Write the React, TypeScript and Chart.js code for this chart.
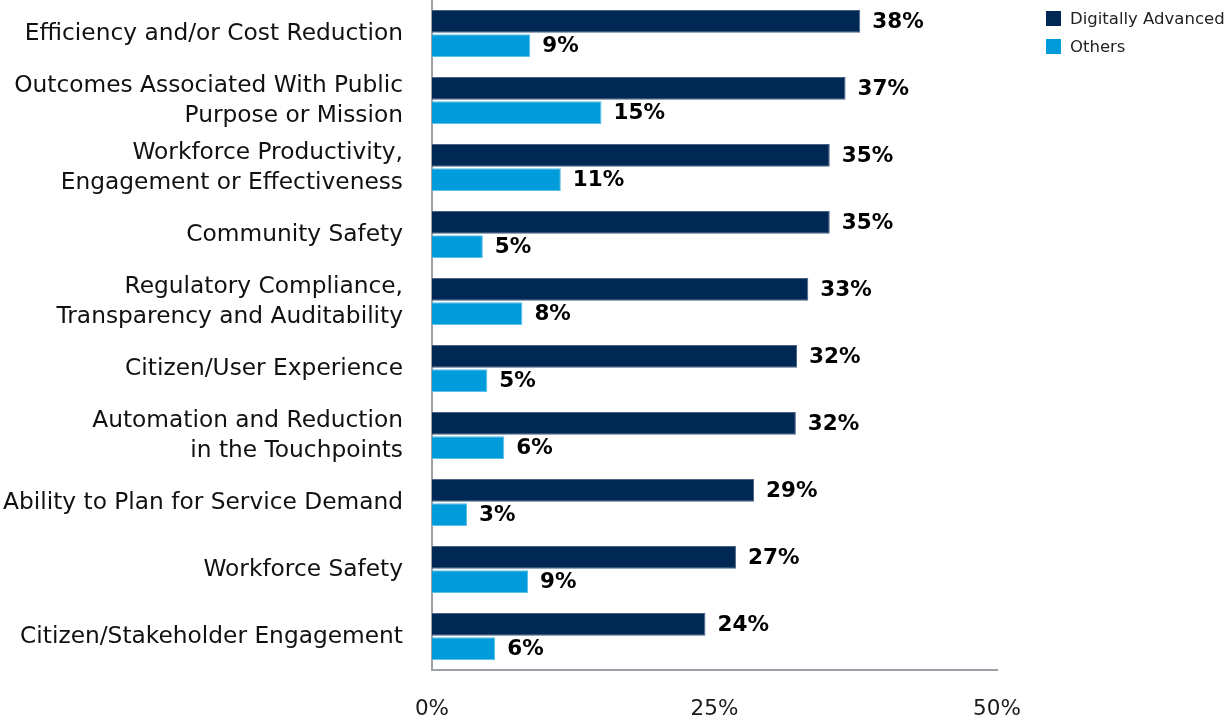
import React, { useEffect, useRef } from "react";
import { Chart, registerables } from "chart.js";

Chart.register(...registerables);

const categories: (string | string[])[] = [
  "Efficiency and/or Cost Reduction",
  ["Outcomes Associated With Public", "Purpose or Mission"],
  ["Workforce Productivity,", "Engagement or Effectiveness"],
  "Community Safety",
  ["Regulatory Compliance,", "Transparency and Auditability"],
  "Citizen/User Experience",
  ["Automation and Reduction", "in the Touchpoints"],
  "Ability to Plan for Service Demand",
  "Workforce Safety",
  "Citizen/Stakeholder Engagement",
];

const digitallyAdvanced = [37.9, 36.6, 35.2, 35.2, 33.3, 32.3, 32.2, 28.5, 26.9, 24.2];
const others = [8.7, 15.0, 11.4, 4.5, 8.0, 4.9, 6.4, 3.1, 8.5, 5.6];
const valueLabelsDA = ["38%", "37%", "35%", "35%", "33%", "32%", "32%", "29%", "27%", "24%"];
const valueLabelsOthers = ["9%", "15%", "11%", "5%", "8%", "5%", "6%", "3%", "9%", "6%"];
const xTicks = [0, 25, 50];

const seriesNames = ["Digitally Advanced", "Others"];
const seriesColors = ["#002855", "#009BDA"];
const seriesBorders = ["#4a6285", "#5cc0ea"];

const FONT = "'DejaVu Sans', sans-serif";

export default function App() {
  const ref = useRef<HTMLCanvasElement | null>(null);

  useEffect(() => {
    document.body.style.margin = "0";
    const canvas = ref.current;
    if (!canvas) return;
    const labelSets = [valueLabelsDA, valueLabelsOthers];
    const valueLabelPlugin = {
      id: "valueLabels",
      afterDatasetsDraw(chart: any) {
        const ctx = chart.ctx;
        ctx.save();
        ctx.font = `bold 21.5px ${FONT}`;
        ctx.fillStyle = "#000";
        ctx.textAlign = "left";
        ctx.textBaseline = "middle";
        chart.data.datasets.forEach((_ds: any, di: number) => {
          const meta = chart.getDatasetMeta(di);
          meta.data.forEach((bar: any, i: number) => {
            ctx.fillText(labelSets[di][i], bar.x + 12, bar.y + 1);
          });
        });
        ctx.restore();
      },
    };

    const chart = new Chart(canvas, {
      type: "bar",
      data: {
        labels: categories,
        datasets: [0, 1].map((k) => ({
          label: seriesNames[k],
          data: k === 0 ? digitallyAdvanced : others,
          backgroundColor: seriesColors[k],
          borderColor: seriesBorders[k],
          borderWidth: { top: 1, right: 1, bottom: 1, left: 0 },
          categoryPercentage: 0.73,
          barPercentage: 0.93,
        })),
      },
      options: {
        indexAxis: "y",
        animation: false,
        responsive: false,
        maintainAspectRatio: false,
        layout: { padding: { top: 0, right: 230, bottom: 0, left: 0 } },
        plugins: {
          legend: { display: false },
          tooltip: { enabled: false },
        },
        scales: {
          x: {
            min: 0,
            max: 50,
            afterBuildTicks: (scale: any) => {
              scale.ticks = xTicks.map((v) => ({ value: v }));
            },
            afterFit: (scale: any) => {
              scale.height = 51;
              scale.paddingLeft = 0;
              scale.paddingRight = 0;
            },
            grid: { display: false, drawTicks: false },
            border: { display: true, color: "#9aa0a6", width: 2 },
            ticks: {
              padding: 27,
              color: "#1a1a1a",
              font: { family: FONT, size: 21.5 },
              maxRotation: 0,
              callback: (v: any) => `${v}%`,
            },
          },
          y: {
            grid: { display: false, drawTicks: false },
            border: { display: true, color: "#9aa0a6", width: 2 },
            afterFit: (scale: any) => {
              scale.width = 432;
              scale.paddingTop = 0;
              scale.paddingBottom = 0;
            },
            ticks: {
              padding: 29,
              color: "#111",
              font: { family: FONT, size: 23.3, lineHeight: 1.29 },
              autoSkip: false,
            },
          },
        },
      },
      plugins: [valueLabelPlugin],
    });
    return () => chart.destroy();
  }, []);

  return (
    <div style={{ position: "relative", width: 1227, height: 721 }}>
      <canvas ref={ref} width={1227} height={721} style={{ display: "block" }} />
      <div style={{ position: "absolute", left: 1046, top: 4, fontFamily: FONT, fontSize: 16.5, color: "#222" }}>
        {seriesNames.map((n, i) => (
          <div key={n} style={{ display: "flex", alignItems: "center", height: 28 }}>
            <span style={{ display: "inline-block", width: 15, height: 15, background: seriesColors[i], marginRight: 9 }} />
            <span>{n}</span>
          </div>
        ))}
      </div>
    </div>
  );
}
